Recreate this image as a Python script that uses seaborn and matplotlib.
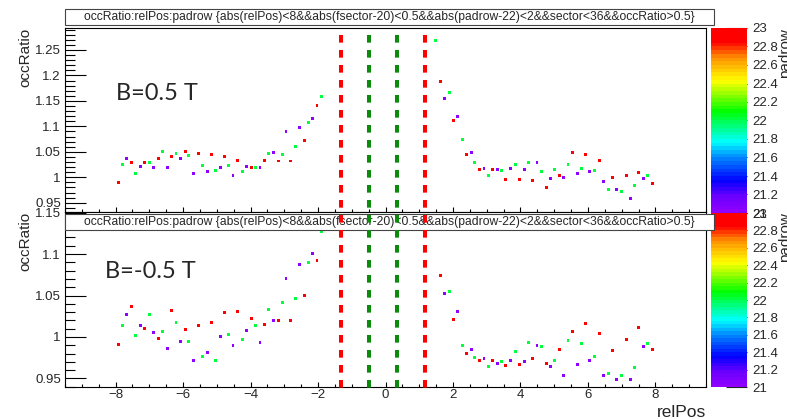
import numpy as np
import pandas as pd
import matplotlib
matplotlib.use("Agg")
import matplotlib.pyplot as plt
import seaborn as sns
from matplotlib.colors import LinearSegmentedColormap, Normalize
from matplotlib.cm import ScalarMappable
from matplotlib.ticker import MultipleLocator, FuncFormatter
from matplotlib.patches import Rectangle
from matplotlib.lines import Line2D
import matplotlib.transforms as mtransforms

# ---------------- data ----------------
relpos_left = [-7.92, -7.80, -7.67, -7.53, -7.41, -7.27, -7.14, -6.99, -6.87, -6.74, -6.62, -6.47,
               -6.35, -6.21, -6.09, -5.94, -5.83, -5.69, -5.55, -5.43, -5.29, -5.17, -5.03, -4.90,
               -4.77, -4.64, -4.52, -4.38, -4.25, -4.11, -3.98, -3.86, -3.72, -3.59, -3.46, -3.33,
               -3.18, -3.06, -2.95, -2.81, -2.68, -2.56, -2.41, -2.28, -2.15, -2.03, -1.90]
padrow_left = [23, 22, 21] * 15 + [23, 22]

relpos_right_top = [1.48, 1.62, 1.75, 1.89, 2.01, 2.13, 2.27, 2.39, 2.54, 2.65, 2.79, 2.92, 3.05,
                    3.17, 3.31, 3.44, 3.57, 3.70, 3.84, 3.97, 4.11, 4.24, 4.36, 4.49, 4.62, 4.76,
                    4.88, 5.01, 5.16, 5.27, 5.41, 5.54, 5.68, 5.80, 5.93, 6.06, 6.19, 6.33, 6.46,
                    6.60, 6.73, 6.86, 6.99, 7.13, 7.26, 7.39, 7.51, 7.65, 7.78, 7.91]
padrow_right_top = [22, 23, 21] * 16 + [22, 23]

relpos_right_bot = [1.62, 1.75, 1.89, 2.01, 2.13, 2.27, 2.39, 2.54, 2.65, 2.79, 2.92, 3.05,
                    3.17, 3.31, 3.44, 3.57, 3.70, 3.84, 3.97, 4.11, 4.24, 4.36, 4.49, 4.62, 4.76,
                    4.88, 5.01, 5.16, 5.27, 5.41, 5.54, 5.68, 5.80, 5.93, 6.06, 6.19, 6.33, 6.46,
                    6.60, 6.73, 6.86, 6.99, 7.13, 7.26, 7.39, 7.51, 7.65, 7.78, 7.91]
padrow_right_bot = [23, 21, 22] * 16 + [23]

# B = 0.5 T
ratio_top_left = [0.990, 1.026, 1.036, 1.029, 1.008, 1.022, 1.029, 1.029, 1.020, 1.036, 1.050, 1.020,
                  1.041, 1.047, 1.037, 1.050, 1.042, 1.008, 1.046, 1.023, 1.011, 1.044, 1.014, 1.020,
                  1.041, 1.024, 1.003, 1.033, 1.011, 1.022, 1.019, 1.019, 1.019, 1.033, 1.046, 1.048,
                  1.032, 1.045, 1.090, 1.032, 1.060, 1.097, 1.073, 1.107, 1.116, 1.141, 1.158]
ratio_top_right = [1.268, 1.189, 1.154, 1.167, 1.112, 1.120, 1.074, 1.045, 1.048, 1.029, 1.016, 1.018,
                   1.003, 1.016, 1.016, 1.014, 0.995, 1.018, 1.026, 0.995, 1.016, 1.029, 0.993, 1.029,
                   1.012, 0.980, 0.997, 1.016, 1.004, 0.999, 1.026, 1.049, 1.007, 1.018, 1.045, 1.012,
                   1.014, 1.033, 0.991, 0.976, 1.000, 0.976, 0.972, 1.004, 0.959, 0.983, 1.010, 0.997,
                   1.003, 0.988]
# B = -0.5 T
ratio_bot_left = [0.9914, 1.0143, 1.0272, 1.0373, 1.0023, 1.0135, 1.0099, 1.0272, 1.0055, 0.9986,
                  1.0071, 0.9862, 1.0316, 1.0175, 0.9942, 1.0091, 0.9942, 0.9721, 1.0135, 0.9769,
                  0.9813, 1.0175, 0.9721, 1.0011, 1.0296, 1.0027, 0.9902, 1.0312, 0.9974, 1.0083,
                  1.0224, 1.0143, 0.9934, 1.0155, 1.0336, 1.0204, 1.0196, 1.0417, 1.0710, 1.0196,
                  1.0465, 1.0879, 1.0505, 1.0899, 1.1004, 1.0920, 1.1270]
ratio_bot_right = [1.0739, 1.0525, 1.0553, 1.0212, 1.0304, 0.9898, 0.9805, 0.9850, 0.9757, 0.9721,
                   0.9737, 0.9649, 0.9717, 0.9685, 0.9709, 0.9657, 0.9721, 0.9829, 0.9673, 0.9701,
                   0.9931, 0.9745, 0.9894, 0.9886, 0.9685, 0.9649, 0.9717, 0.9854, 0.9532, 0.9960,
                   1.0071, 0.9669, 0.9923, 1.0163, 0.9717, 0.9764, 1.0047, 0.9536, 0.9560, 0.9838,
                   0.9488, 0.9532, 0.9970, 0.9488, 0.9633, 1.0111, 0.9882, 0.9923, 0.9846]

panel_labels = ["B=0.5 T", "B=-0.5 T"]
vline_x = [-1.33, -0.49, 0.34, 1.17]
vline_colors = ["#ff0000", "#0b8a0b", "#0b8a0b", "#ff0000"]
cbar_ticks = [21, 21.2, 21.4, 21.6, 21.8, 22, 22.2, 22.4, 22.6, 22.8, 23]
title = ("occRatio:relPos:padrow {abs(relPos)<8&&abs(fsector-20)<0.5&&"
         "abs(padrow-22)<2&&sector<36&&occRatio>0.5}")

df_top = pd.DataFrame({"relPos": relpos_left + relpos_right_top,
                       "occRatio": ratio_top_left + ratio_top_right,
                       "padrow": padrow_left + padrow_right_top})
df_bot = pd.DataFrame({"relPos": relpos_left + relpos_right_bot,
                       "occRatio": ratio_bot_left + ratio_bot_right,
                       "padrow": padrow_left + padrow_right_bot})

# ---------------- style ----------------
sns.set_theme(style="white")
plt.rcParams["font.family"] = ["Liberation Sans", "DejaVu Sans"]
plt.rcParams["lines.scale_dashes"] = False

stops = [(0.00, (0.56, 0.0, 1.0)), (0.08, (0.42, 0.0, 1.0)), (0.17, (0.0, 0.0, 1.0)),
         (0.30, (0.0, 0.55, 1.0)), (0.38, (0.0, 1.0, 1.0)), (0.45, (0.0, 1.0, 0.6)),
         (0.55, (0.0, 1.0, 0.0)), (0.65, (0.6, 1.0, 0.0)), (0.72, (1.0, 1.0, 0.0)),
         (0.85, (1.0, 0.55, 0.0)), (0.93, (1.0, 0.0, 0.0)), (1.00, (1.0, 0.0, 0.0))]
cmap = LinearSegmentedColormap.from_list("rootpal", stops, N=50)
norm = Normalize(21, 23)
palette = {p: cmap(norm(p)) for p in (21, 22, 23)}

W, H = 787, 419
fig = plt.figure(figsize=(W / 100, H / 100), dpi=100, facecolor="white")


def fx(px):
    return px / W


def fy(py):
    return 1 - py / H


ax_top = fig.add_axes([fx(65), fy(212), fx(706 - 65), (212 - 28) / H])
ax_bot = fig.add_axes([fx(65), fy(387), fx(706 - 65), (387 - 212) / H])
cax_top = fig.add_axes([fx(711), fy(213), fx(36), (213 - 28) / H])
cax_bot = fig.add_axes([fx(711), fy(387), fx(36), (387 - 213) / H])

fmt = FuncFormatter(lambda v, p: f"{v:g}")

for ax, df, ylim in ((ax_top, df_top, (0.9318, 1.2932)), (ax_bot, df_bot, (0.9397, 1.1507))):
    sns.scatterplot(data=df, x="relPos", y="occRatio", hue="padrow", palette=palette,
                    marker="s", s=4.5, linewidth=0, legend=False, ax=ax)
    ax.set_xlim(-9.5, 9.5)
    ax.set_ylim(*ylim)
    ax.set_facecolor("white")
    ax.xaxis.set_major_locator(MultipleLocator(2))
    ax.xaxis.set_minor_locator(MultipleLocator(0.5))
    ax.yaxis.set_major_locator(MultipleLocator(0.05))
    ax.yaxis.set_minor_locator(MultipleLocator(0.01))
    ax.yaxis.set_major_formatter(fmt)
    ax.tick_params(axis="y", which="major", direction="in", length=15, width=0.8,
                   color="black", labelsize=9.5, pad=3, left=True, right=False)
    ax.tick_params(axis="y", which="minor", direction="in", length=7.5, width=0.8,
                   color="black", left=True, right=False)
    ax.tick_params(axis="x", which="major", direction="in", length=3.6, width=0.8,
                   color="black", labelsize=9.5, pad=1.5, bottom=True, top=False)
    ax.tick_params(axis="x", which="minor", direction="in", length=2, width=0.8,
                   color="black", bottom=True, top=False)
    for sp in ax.spines.values():
        sp.set_color("black")
        sp.set_linewidth(0.8)
    ax.set_xlabel("")
    ax.set_ylabel("")

ax_top.tick_params(labelbottom=False)

sm = ScalarMappable(norm=norm, cmap=cmap)
for cax in (cax_top, cax_bot):
    cb = fig.colorbar(sm, cax=cax)
    cb.set_ticks(cbar_ticks)
    cax.yaxis.set_major_formatter(fmt)
    cax.minorticks_off()
    cax.tick_params(axis="y", direction="in", length=15, width=0.8, color="#222222",
                    labelsize=9.5, pad=4, right=True, left=False)
    cb.outline.set_visible(False)

# axis titles
for ytop in (28, 212):
    fig.text(fx(25), fy(ytop), "occRatio", rotation=90, ha="center", va="top", fontsize=11)
    fig.text(fx(778), fy(ytop), "padrow", rotation=90, ha="left", va="top", fontsize=11)
fig.text(fx(706), fy(412), "relPos", ha="right", va="center", fontsize=12.5)

# title panes
for ytop in (9, 214):
    fig.add_artist(Rectangle((fx(65), fy(ytop + 16)), fx(649), 16 / H, transform=fig.transFigure,
                             facecolor="white", edgecolor="#444444", lw=0.8, zorder=5))
    fig.text(fx(389.5), fy(ytop + 8), title, ha="center", va="center", fontsize=8.7, zorder=6)

# panel annotations
fig.text(fx(157), fy(94), panel_labels[0], ha="center", va="center", fontsize=17,
         family=["Lato", "DejaVu Sans"], zorder=6)
fig.text(fx(150), fy(271), panel_labels[1], ha="center", va="center", fontsize=17,
         family=["Lato", "DejaVu Sans"], zorder=6)

# dashed guide lines
trans = mtransforms.blended_transform_factory(ax_bot.transData, fig.transFigure)
for xv, col in zip(vline_x, vline_colors):
    fig.add_artist(Line2D([xv, xv], [fy(35), fy(392)], transform=trans, color=col, lw=2.9,
                          linestyle=(0, (5.5, 5.3)), zorder=10))

fig.savefig("out.png", dpi=100, facecolor="white")
